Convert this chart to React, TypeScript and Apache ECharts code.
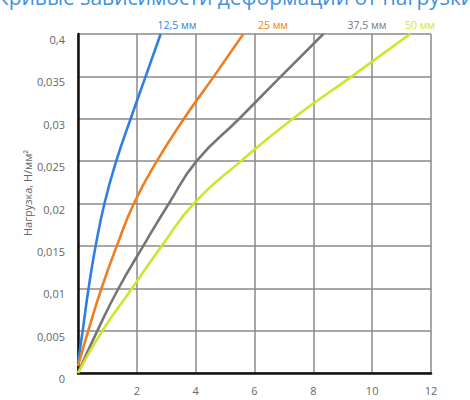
import React, { useEffect, useRef } from "react";
import * as echarts from "echarts";

const seriesNames = ["12,5 мм", "25 мм", "37,5 мм", "50 мм"];
const seriesColors = ["#2f7fe3", "#ef7d22", "#767676", "#cde62a"];

// [deformation (x), load (y)]
const blue: [number, number][] = [
  [0, 0.0012], [0.16, 0.005], [0.36, 0.01], [0.6, 0.015], [0.9, 0.02],
  [1.3, 0.025], [1.79, 0.03], [2.3, 0.035], [2.81, 0.04],
];
const orange: [number, number][] = [
  [0, 0.0008], [0.35, 0.005], [0.8, 0.01], [1.32, 0.015], [1.9, 0.02],
  [2.68, 0.025], [3.6, 0.03], [4.62, 0.035], [5.62, 0.04],
];
const gray: [number, number][] = [
  [0, 0], [0.66, 0.005], [1.38, 0.01], [2.22, 0.015], [3.09, 0.02],
  [4.03, 0.025], [5.48, 0.03], [6.9, 0.035], [8.34, 0.04],
];
const green: [number, number][] = [
  [0, 0], [0.83, 0.005], [1.84, 0.01], [2.85, 0.015], [3.94, 0.02],
  [5.54, 0.025], [7.3, 0.03], [9.31, 0.035], [11.29, 0.04],
];
const seriesData = [blue, orange, gray, green];

const yTickLabels = ["0", "0,005", "0,01", "0,015", "0,02", "0,025", "0,03", "0,035", "0,4"];
const xTickLabels = ["", "2", "4", "6", "8", "10", "12"];

const titleText = "Кривые зависимости деформации от нагрузки";
const yAxisName = "Нагрузка, Н/мм²";

const labelPositions: [number, number][] = [
  [177, 25], [273, 25], [367, 25], [420, 25],
];

export default function App() {
  const ref = useRef<HTMLDivElement>(null);
  useEffect(() => {
    if (!ref.current) return;
    const chart = echarts.init(ref.current, null, { renderer: "svg" });
    const font = "'Open Sans', 'Noto Sans', sans-serif";
    chart.setOption({
      animation: false,
      backgroundColor: "#ffffff",
      grid: { left: 78, right: 39, top: 34, bottom: 27, containLabel: false },
      xAxis: {
        type: "value",
        min: 0,
        max: 12,
        interval: 2,
        axisLine: { show: true, onZero: false, lineStyle: { color: "#111", width: 2.5 } },
        axisTick: { show: false },
        splitLine: { show: true, lineStyle: { color: "#8a8a8a", width: 1.5 } },
        axisLabel: {
          color: "#666",
          fontSize: 11,
          fontFamily: font,
          margin: 12,
          formatter: (v: number) => xTickLabels[Math.round(v / 2)] ?? "",
        },
      },
      yAxis: {
        type: "value",
        min: 0,
        max: 0.04,
        interval: 0.005,
        axisLine: { show: true, onZero: false, lineStyle: { color: "#111", width: 2.5 } },
        axisTick: { show: false },
        splitLine: { show: true, lineStyle: { color: "#8a8a8a", width: 1.5 } },
        axisLabel: {
          color: "#666",
          fontSize: 11,
          fontFamily: font,
          margin: 13,
          verticalAlign: "top",
          formatter: (v: number) => yTickLabels[Math.round(v / 0.005)] ?? "",
        },
      },
      series: seriesData.map((d, i) => ({
        type: "line",
        name: seriesNames[i],
        data: d,
        smooth: 0.5,
        showSymbol: false,
        symbol: "none",
        lineStyle: { color: seriesColors[i], width: 2.6 },
        z: 3,
      })),
      graphic: [
        {
          type: "text",
          left: "center",
          top: -14,
          style: {
            text: titleText,
            fill: "#3f92e2",
            fontSize: 21,
            fontFamily: font,
          },
        },
        {
          type: "text",
          x: 27,
          y: 193,
          rotation: Math.PI / 2,
          style: {
            text: yAxisName,
            fill: "#666",
            fontSize: 11,
            fontFamily: font,
            align: "center",
            verticalAlign: "middle",
          },
        },
        ...seriesNames.map((n, i) => ({
          type: "text",
          x: labelPositions[i][0],
          y: labelPositions[i][1],
          style: {
            text: n,
            fill: seriesColors[i],
            fontSize: 10.5,
            fontFamily: font,
            align: "center",
            verticalAlign: "middle",
          },
        })),
      ],
    });
    return () => chart.dispose();
  }, []);
  return (
    <div
      ref={ref}
      style={{ position: "fixed", left: 0, top: 0, width: 470, height: 400 }}
    />
  );
}
